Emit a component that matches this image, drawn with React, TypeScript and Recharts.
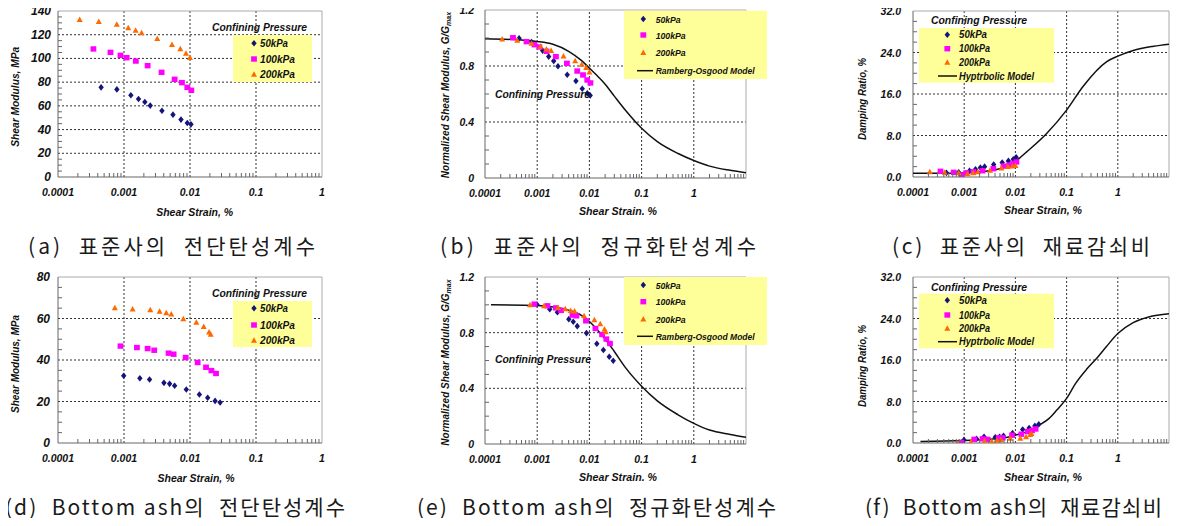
import React from "react";
import { ScatterChart, Scatter, XAxis, YAxis, ReferenceLine } from "recharts";

// legend / series
const pressures = ["50kPa", "100kPa", "200kPa"];
const colors = ["#14147a", "#ff00ff", "#ff6a00"];
const shapes = ["diamond", "square", "triangle"];

// x axis (shear strain, %)
const strainDecades = [0.0001, 0.001, 0.01, 0.1, 1];
const strainLabels = ["0.0001", "0.001", "0.01", "0.1", "1"];

// y axis ticks
const sandModTicks = [0, 20, 40, 60, 80, 100, 120, 140];
const sandModLabels = ["0", "20", "40", "60", "80", "100", "120", "140"];
const ashModTicks = [0, 20, 40, 60, 80];
const ashModLabels = ["0", "20", "40", "60", "80"];
const normTicks = [0, 0.4, 0.8, 1.2];
const normLabels = ["0", "0.4", "0.8", "1.2"];
const dampTicks = [0, 8, 16, 24, 32];
const dampLabels = ["0.0", "8.0", "16.0", "24.0", "32.0"];

// 표준사 (standard sand) test strains
const sandStrain50 = [0.00045, 0.00078, 0.00127, 0.00166, 0.00207, 0.0025, 0.00376, 0.00552, 0.0073, 0.0091, 0.01035];
const sandStrain100 = [0.000344, 0.000624, 0.000885, 0.0011, 0.00151, 0.00228, 0.00371, 0.00585, 0.00755, 0.0091, 0.01047];
const sandStrain200 = [0.000213, 0.000415, 0.000778, 0.00116, 0.0015, 0.00185, 0.00319, 0.00533, 0.00713, 0.00869, 0.01];

const sandG50 = [75.6, 73.9, 68.9, 65.8, 63.3, 60.2, 55.9, 52.6, 48.4, 45.5, 44.4];
const sandG100 = [108.0, 105.1, 102.6, 100.6, 97.8, 93.9, 88.3, 82.4, 79.6, 75.6, 73.1];
const sandG200 = [132.7, 131.0, 128.8, 125.7, 123.7, 121.5, 116.7, 111.6, 108.0, 104.3, 100.6];

const sandGn50 = [0.998, 0.971, 0.91, 0.867, 0.836, 0.798, 0.738, 0.693, 0.638, 0.605, 0.59];
const sandGn100 = [1.002, 0.974, 0.952, 0.936, 0.905, 0.867, 0.819, 0.764, 0.736, 0.7, 0.679];
const sandGn200 = [0.993, 0.983, 0.962, 0.94, 0.921, 0.91, 0.871, 0.836, 0.812, 0.788, 0.757];

const sandD50 = [0.8, 0.9, 1.2, 1.5, 1.8, 2.0, 2.4, 2.8, 3.1, 3.4, 3.8];
const sandD100 = [1.1, 0.9, 0.4, 0.8, 1.0, 1.2, 1.6, 2.1, 2.3, 2.6, 2.9];
const sandD200 = [1.0, 0.9, 0.8, 0.6, 0.8, 1.0, 1.3, 1.7, 2.0, 2.1, 2.2];

const sandModelStrain = [0.0001, 0.0005, 0.001, 0.002, 0.004, 0.007, 0.01, 0.015, 0.02, 0.03, 0.05, 0.1, 0.2, 0.5, 1, 2, 5, 10];
const sandModelGn = [0.995, 0.985, 0.975, 0.955, 0.905, 0.84, 0.785, 0.72, 0.67, 0.585, 0.48, 0.355, 0.26, 0.175, 0.125, 0.085, 0.055, 0.038];
const sandDampStrain = [0.0001, 0.0005, 0.001, 0.002, 0.004, 0.007, 0.01, 0.0166, 0.0408, 0.1, 0.211, 0.6, 1, 2, 5, 10];
const sandModelD = [0.7, 0.7, 0.8, 1.0, 1.4, 2.1, 3.0, 4.85, 8.4, 12.9, 17.5, 22.2, 23.3, 24.4, 25.2, 25.6];

// Bottom ash test strains
const ashStrain50 = [0.00099, 0.00174, 0.00244, 0.00403, 0.00491, 0.00585, 0.00879, 0.01387, 0.01854, 0.024, 0.0286];
const ashStrain100 = [0.000885, 0.00157, 0.00228, 0.00287, 0.00474, 0.00565, 0.0086, 0.01306, 0.0175, 0.0211, 0.0248];
const ashStrain200 = [0.000727, 0.00135, 0.0025, 0.00346, 0.00437, 0.0052, 0.00792, 0.01247, 0.01614, 0.01945, 0.0206];

const ashG50 = [32.4, 31.2, 30.6, 29.0, 28.5, 27.6, 25.8, 23.4, 21.8, 20.3, 19.5];
const ashG100 = [46.7, 46.0, 45.5, 44.7, 43.3, 42.8, 41.2, 38.8, 36.5, 34.9, 33.5];
const ashG200 = [65.1, 64.5, 64.2, 63.4, 62.7, 62.1, 59.8, 58.2, 56.1, 53.4, 52.4];

const ashGn50 = [1.002, 0.969, 0.947, 0.897, 0.878, 0.847, 0.797, 0.72, 0.675, 0.627, 0.598];
const ashGn100 = [1.005, 0.993, 0.978, 0.96, 0.926, 0.921, 0.885, 0.83, 0.787, 0.754, 0.722];
const ashGn200 = [1.0, 0.993, 0.981, 0.971, 0.959, 0.955, 0.921, 0.892, 0.864, 0.825, 0.806];

const ashD50 = [0.6, 0.8, 1.2, 1.1, 1.2, 1.4, 1.9, 2.6, 2.9, 3.3, 3.6];
const ashD100 = [0.1, 0.7, 0.8, 0.7, 1.0, 1.0, 1.5, 1.7, 2.2, 2.4, 2.7];
const ashD200 = [0.0, 0.2, 0.4, 0.3, 0.5, 0.6, 0.9, 0.9, 1.2, 1.6, 1.8];

const ashModelStrain = [0.00013, 0.001, 0.002, 0.004, 0.007, 0.01, 0.015, 0.02, 0.03, 0.05, 0.1, 0.2, 0.5, 1, 2, 5, 10];
const ashModelGn = [1.0, 0.995, 0.985, 0.962, 0.925, 0.88, 0.81, 0.755, 0.665, 0.545, 0.415, 0.31, 0.21, 0.148, 0.1, 0.068, 0.048];
const ashDampStrain = [0.00014, 0.001, 0.003, 0.007, 0.01, 0.015, 0.03, 0.045, 0.065, 0.1, 0.15, 0.25, 0.4, 0.6, 1, 2, 4, 10];
const ashModelD = [0.3, 0.5, 0.7, 1.1, 1.5, 2.0, 3.5, 4.7, 6.4, 8.6, 11.5, 14.3, 16.5, 18.6, 21.1, 23.2, 24.3, 24.9];

const FONT = "'Liberation Sans', Arial, Helvetica, sans-serif";
const KFONT = "'Noto Sans CJK KR', 'Noto Sans', sans-serif";
const ML = 60, MT = 10, MR = 12, MB = 40;

type Pt = { x: number; y: number };
const zip = (xs: number[], ys: number[]): Pt[] => xs.map((x, i) => ({ x, y: ys[i] }));

function Mark({ kind, cx, cy, color }: { kind: string; cx: number; cy: number; color: string }) {
  if (kind === "diamond")
    return <polygon points={`${cx},${cy - 3.3} ${cx + 2.7},${cy} ${cx},${cy + 3.3} ${cx - 2.7},${cy}`} fill={color} />;
  if (kind === "square") return <rect x={cx - 2.9} y={cy - 2.7} width={5.8} height={5.4} fill={color} />;
  return <polygon points={`${cx},${cy - 3.1} ${cx + 3},${cy + 2.4} ${cx - 3},${cy + 2.4}`} fill={color} />;
}

function strainTicks(xMax: number) {
  const out: number[] = [];
  for (let e = -4; Math.pow(10, e) < xMax; e++) {
    for (let m = 1; m < 10; m++) out.push(Number((m * Math.pow(10, e)).toPrecision(3)));
  }
  out.push(xMax);
  return out;
}

interface PanelProps {
  box: number[];
  xMax: number;
  yTicks: number[];
  yLabels: string[];
  yStep: number;
  gap: number;
  yFont: number;
  sets: Pt[][];
  curve?: Pt[];
}

function Panel({ box, xMax, yTicks, yLabels, yStep, gap, yFont, sets, curve }: PanelProps) {
  const [l, t, r, b] = box;
  const yMax = yTicks[yTicks.length - 1];
  const xTicks = strainTicks(xMax);
  const yAll: number[] = [];
  for (let i = 0; i * yStep <= yMax + 1e-9; i++) yAll.push(Number((i * yStep).toFixed(4)));

  const xTick = (p: any) => {
    const v = p.payload.value;
    const i = strainDecades.findIndex((d) => Math.abs(d - v) / d < 1e-6);
    if (i >= 0)
      return (
        <text x={p.x} y={p.y + 19} textAnchor="middle" fontFamily={FONT} fontWeight="bold" fontStyle="italic" fontSize={10.5} fill="#111">
          {strainLabels[i]}
        </text>
      );
    if (v >= xMax) return <g />;
    return <line x1={p.x} x2={p.x} y1={p.y} y2={p.y - 4} stroke="#666" />;
  };

  const yTick = (p: any) => {
    const v = p.payload.value;
    const i = yTicks.findIndex((d) => Math.abs(d - v) < 1e-6);
    if (i >= 0)
      return (
        <text x={p.x - gap} y={p.y + 4} textAnchor="end" fontFamily={FONT} fontWeight="bold" fontStyle="italic" fontSize={yFont} fill="#111">
          {yLabels[i]}
        </text>
      );
    return <line x1={p.x} x2={p.x + 4} y1={p.y} y2={p.y} stroke="#666" />;
  };

  return (
    <div style={{ position: "absolute", left: l - ML, top: t - MT }}>
      <ScatterChart width={r - l + ML + MR} height={b - t + MT + MB} margin={{ top: MT, right: MR, bottom: MB - 1, left: ML - 1 }}>
        <XAxis type="number" dataKey="x" scale="log" domain={[0.0001, xMax]} allowDataOverflow ticks={xTicks} interval={0}
          height={1} tickSize={0} tickMargin={0} tickLine={false} axisLine={{ stroke: "#666" }} tick={xTick} />
        <YAxis type="number" dataKey="y" domain={[0, yMax]} allowDataOverflow ticks={yAll} interval={0}
          width={1} tickSize={0} tickMargin={0} tickLine={false} axisLine={{ stroke: "#666" }} tick={yTick} />
        {strainDecades.filter((d) => d > 0.0001 && d < xMax).map((d) => (
          <ReferenceLine key={`vx${d}`} x={d} stroke="#333" strokeDasharray="2 2" />
        ))}
        {yTicks.slice(1, -1).map((v) => (
          <ReferenceLine key={`hy${v}`} y={v} stroke="#333" strokeDasharray="2 2" />
        ))}
        <ReferenceLine y={yMax} stroke="#aaa" />
        <ReferenceLine x={xMax} stroke="#aaa" />
        {curve && (
          <Scatter data={curve} line={{ stroke: "#111", strokeWidth: 1.5 }} lineJointType="monotoneX"
            shape={() => <g />} isAnimationActive={false} />
        )}
        {sets.map((s, k) => (
          <Scatter key={pressures[k]} name={pressures[k]} data={s} isAnimationActive={false}
            shape={(p: any) => <Mark kind={shapes[k]} cx={p.cx} cy={p.cy} color={colors[k]} />} />
        ))}
      </ScatterChart>
    </div>
  );
}

function Txt({ x, y, w, size = 10.5, anchor = "start", rot, children }: any) {
  return (
    <text x={x} y={y} textLength={w} lengthAdjust="spacingAndGlyphs" textAnchor={anchor}
      transform={rot ? `rotate(-90 ${x} ${y})` : undefined} dominantBaseline={rot ? "central" : undefined}
      fontFamily={FONT} fontWeight="bold" fontStyle="italic" fontSize={size} fill="#111">
      {children}
    </text>
  );
}

function LegendBox({ box, mx, tx, rows, widths, size, model, line, title }: any) {
  return (
    <g>
      {title && <Txt x={title[0]} y={title[1]} w={title[2]}>Confining Pressure</Txt>}
      <rect x={box[0]} y={box[1]} width={box[2]} height={box[3]} fill="#ffff99" />
      {pressures.map((name, k) => (
        <g key={name}>
          <Mark kind={shapes[k]} cx={mx} cy={rows[k]} color={colors[k]} />
          <Txt x={tx} y={rows[k] + 3.5} w={widths[k]} size={size}>{name}</Txt>
        </g>
      ))}
      {model && (
        <g>
          <line x1={line[0]} x2={line[1]} y1={rows[3]} y2={rows[3]} stroke="#111" strokeWidth={1.5} />
          <Txt x={tx} y={rows[3] + 3.5} w={widths[3]} size={size}>{model}</Txt>
        </g>
      )}
    </g>
  );
}

function Caption({ x, y, w, children }: any) {
  return (
    <text x={x} y={y} textLength={w} lengthAdjust="spacing" fontFamily={KFONT} fontSize={21} fill="#1a1a1a" style={{ whiteSpace: "pre" }}>
      {children}
    </text>
  );
}

export default function App() {
  return (
    <div style={{ position: "relative", width: 1178, height: 526, margin: -8, background: "#fff", overflow: "hidden" }}>
      <Panel box={[58, 11, 322, 177]} xMax={1} yTicks={sandModTicks} yLabels={sandModLabels} yStep={5} gap={7} yFont={12}
        sets={[zip(sandStrain50, sandG50), zip(sandStrain100, sandG100), zip(sandStrain200, sandG200)]} />
      <Panel box={[485, 10, 746, 178]} xMax={10} yTicks={normTicks} yLabels={normLabels} yStep={0.1} gap={11} yFont={10.5}
        sets={[zip(sandStrain50, sandGn50), zip(sandStrain100, sandGn100), zip(sandStrain200, sandGn200)]}
        curve={zip(sandModelStrain, sandModelGn)} />
      <Panel box={[913, 11, 1169, 177]} xMax={10} yTicks={dampTicks} yLabels={dampLabels} yStep={2} gap={12} yFont={10.5}
        sets={[zip(sandStrain50, sandD50), zip(sandStrain100, sandD100), zip(sandStrain200, sandD200)]}
        curve={zip(sandDampStrain, sandModelD)} />
      <Panel box={[58, 277, 322, 443]} xMax={1} yTicks={ashModTicks} yLabels={ashModLabels} yStep={5} gap={8} yFont={12}
        sets={[zip(ashStrain50, ashG50), zip(ashStrain100, ashG100), zip(ashStrain200, ashG200)]} />
      <Panel box={[485, 277, 746, 444]} xMax={10} yTicks={normTicks} yLabels={normLabels} yStep={0.1} gap={11} yFont={10.5}
        sets={[zip(ashStrain50, ashGn50), zip(ashStrain100, ashGn100), zip(ashStrain200, ashGn200)]}
        curve={zip(ashModelStrain, ashModelGn)} />
      <Panel box={[913, 277, 1169, 443]} xMax={10} yTicks={dampTicks} yLabels={dampLabels} yStep={2} gap={12} yFont={10.5}
        sets={[zip(ashStrain50, ashD50), zip(ashStrain100, ashD100), zip(ashStrain200, ashD200)]}
        curve={zip(ashDampStrain, ashModelD)} />

      <svg width={1178} height={526} style={{ position: "absolute", left: 0, top: 0, pointerEvents: "none" }}>
        {/* legends */}
        <LegendBox title={[212, 30.5, 95]} box={[233, 35, 79, 47]} mx={254} tx={260} rows={[43.3, 59, 74.3]} widths={[28, 35, 35]} size={10} />
        <LegendBox title={[212, 297, 95]} box={[233, 301, 79, 46]} mx={254} tx={260} rows={[308.3, 325, 340.3]} widths={[28, 35, 35]} size={10} />
        <LegendBox box={[624, 10.7, 143, 68.3]} mx={643.3} tx={655.7} rows={[19, 35, 52.7, 70.7]} widths={[25, 30, 30, 99]} size={9}
          model="Ramberg-Osgood Model" line={[637, 653]} />
        <LegendBox box={[624, 277, 143, 68]} mx={643.3} tx={655.7} rows={[285, 301.7, 319, 336.3]} widths={[25, 30, 30, 99]} size={9}
          model="Ramberg-Osgood Model" line={[637, 653]} />
        <LegendBox title={[931, 24.4, 96]} box={[919, 28, 135, 54.7]} mx={947.3} tx={959} rows={[34.7, 48.7, 62.3, 76]} widths={[28, 31, 31, 75]} size={10}
          model="Hyptrbolic Model" line={[938, 957]} />
        <LegendBox title={[931, 290.7, 96]} box={[919, 293.7, 135, 54.6]} mx={947.3} tx={959} rows={[300.3, 315, 328.3, 341.7]} widths={[28, 31, 31, 75]} size={10}
          model="Hyptrbolic Model" line={[938, 957]} />
        <Txt x={495} y={98} w={95}>Confining Pressure</Txt>
        <Txt x={495} y={363} w={96}>Confining Pressure</Txt>

        {/* axis titles */}
        <Txt x={15} y={96.7} w={100} anchor="middle" rot>Shear Modulus, MPa</Txt>
        <Txt x={194.7} y={215.7} w={77} anchor="middle">Shear Strain, %</Txt>
        <Txt x={15} y={364} w={98} anchor="middle" rot>Shear Modulus, MPa</Txt>
        <Txt x={196} y={482} w={77} anchor="middle">Shear Strain, %</Txt>

        <text x={445} y={95} textAnchor="middle" dominantBaseline="central" transform="rotate(-90 445 95)"
          fontFamily={FONT} fontWeight="bold" fontStyle="italic" fontSize={10} fill="#111">
          Normalized Shear Modulus, G/G<tspan fontSize={7} dy={3}>max</tspan>
        </text>
        <Txt x={618} y={215} w={78} anchor="middle">Shear Strain. %</Txt>
        <text x={445} y={362.5} textAnchor="middle" dominantBaseline="central" transform="rotate(-90 445 362.5)"
          fontFamily={FONT} fontWeight="bold" fontStyle="italic" fontSize={10} fill="#111">
          Normalized Shear Modulus, G/G<tspan fontSize={7} dy={3}>max</tspan>
        </text>
        <Txt x={618} y={480.7} w={78} anchor="middle">Shear Strain. %</Txt>

        <Txt x={861.7} y={99} w={82} anchor="middle" rot>Damping Ratio, %</Txt>
        <Txt x={1043} y={214.4} w={78} anchor="middle">Shear Strain, %</Txt>
        <Txt x={862} y={366} w={82} anchor="middle" rot>Damping Ratio, %</Txt>
        <Txt x={1043} y={480.7} w={78} anchor="middle">Shear Strain, %</Txt>

        {/* captions */}
        <Caption x={28} y={254} w={287}>(a)  표준사의  전단탄성계수</Caption>
        <Caption x={440} y={254} w={316}>(b)  표준사의  정규화탄성계수</Caption>
        <Caption x={892} y={254} w={258}>(c)  표준사의  재료감쇠비</Caption>
        <Caption x={5} y={515} w={340}>(d)  Bottom ash의  전단탄성계수</Caption>
        <Caption x={417} y={515} w={359}>(e)  Bottom ash의  정규화탄성계수</Caption>
        <Caption x={865} y={515} w={297}>(f)  Bottom ash의  재료감쇠비</Caption>
      </svg>
    </div>
  );
}
